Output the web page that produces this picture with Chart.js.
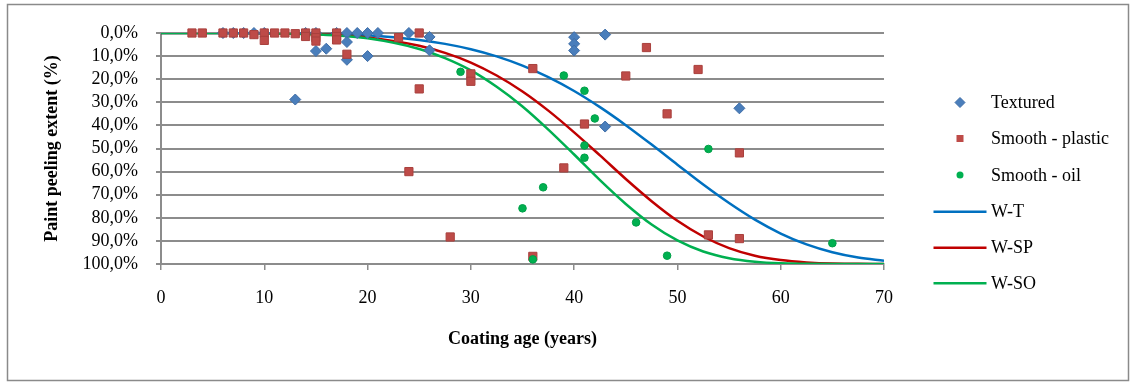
<!DOCTYPE html>
<html><head><meta charset="utf-8">
<script src="https://cdn.jsdelivr.net/npm/chart.js@4.4.1/dist/chart.umd.min.js"></script>
<style>html,body{margin:0;padding:0;background:#fff;overflow:hidden}#wrap{width:1130px;height:383px;position:relative}</style>
</head><body><div id="wrap"><canvas id="c" width="1130" height="383"></canvas></div>
<script>
// ---- tick labels ----
const xTickValues = [0, 10, 20, 30, 40, 50, 60, 70];
const xTickLabels = ['0', '10', '20', '30', '40', '50', '60', '70'];
const yTickValues = [0, 10, 20, 30, 40, 50, 60, 70, 80, 90, 100];
const yTickLabels = ['0,0%', '10,0%', '20,0%', '30,0%', '40,0%', '50,0%', '60,0%', '70,0%', '80,0%', '90,0%', '100,0%'];

// ---- observed data (coating age in years, peeling extent in %) ----
const texturedAge  = [6, 7, 8, 9, 10, 13, 14, 15, 15, 16, 17, 18, 18, 18, 19, 20, 20, 21, 24, 26, 26, 40, 40, 40, 43, 43, 56];
const texturedPeel = [0, 0, 0, 0, 0, 28.8, 0, 0, 7.8, 6.8, 0, 0, 3.9, 11.6, 0, 0, 10, 0, 0, 1.7, 7.5, 1.8, 4.7, 7.6, 0.7, 40.5, 32.6];

const plasticAge  = [3, 4, 6, 7, 8, 9, 10, 10, 11, 12, 13, 14, 14, 15, 15, 15, 17, 17, 17, 18, 23, 24, 25, 25, 28, 30, 30, 36, 36, 39, 41, 45, 47, 49, 52, 53, 56, 56];
const plasticPeel = [0, 0, 0, 0, 0, 0.7, 0, 3.2, 0, 0, 0.3, 0, 1.5, 0, 2, 3.5, 0, 1.5, 3, 9.2, 2, 60, 0, 24.2, 88.3, 17.7, 20.9, 15.4, 96.7, 58.4, 39.4, 18.6, 6.3, 35, 15.8, 87.4, 51.9, 89];

const oilAge  = [29, 35, 36, 37, 39, 41, 41, 41, 42, 46, 49, 53, 65];
const oilPeel = [16.8, 75.9, 98, 66.8, 18.4, 25, 48.7, 54, 37, 82, 96.4, 50.2, 91];

// ---- fitted curves ----
const curveAge = [0, 5, 10, 15, 20, 25, 27.5, 30, 32.5, 35, 37.5, 40, 42.5, 45, 47.5, 50, 52.5, 55, 57.5, 60, 62.5, 65, 67.5, 70];
const wT  = [0, 0, 0.04, 0.3, 1.0, 3.0, 4.7, 7.0, 10.1, 14.1, 19.1, 25.1, 32.1, 39.9, 48.3, 57.0, 65.6, 73.6, 80.8, 86.8, 91.5, 94.9, 97.2, 98.6];
const wSP = [0, 0, 0.06, 0.5, 1.9, 5.5, 8.6, 12.8, 18.4, 25.3, 33.6, 43.0, 53.0, 63.2, 72.8, 81.3, 88.1, 93.1, 96.4, 98.3, 99.3, 99.8, 99.9, 100];
const wSO = [0, 0, 0.07, 0.55, 2.3, 6.9, 10.9, 16.2, 23.3, 31.8, 41.8, 52.6, 63.7, 74.0, 82.9, 89.8, 94.6, 97.5, 99.0, 99.7, 99.9, 100, 100, 100];

const seriesNames = ['Textured', 'Smooth - plastic', 'Smooth - oil', 'W-T', 'W-SP', 'W-SO'];

const pts = (xs, ys) => xs.map((x, i) => ({x: x, y: ys[i]}));

const FONT = "'Liberation Serif', 'Times New Roman', serif";
const GRID = '#8c8c8c';

const C = {
  tex: '#4A7EBB', texB: '#3F6EA8',
  pla: '#BE4B48', plaB: '#A9403D',
  oil: '#00B050', oilB: '#00A048',
  lT: '#0070C0', lSP: '#C00000', lSO: '#00B050'
};

const frame = {
  id: 'frame',
  beforeDraw(chart) {
    const ctx = chart.ctx;
    ctx.save();
    ctx.fillStyle = '#fff';
    ctx.fillRect(0, 0, chart.width, chart.height);
    ctx.restore();
  },
  afterDraw(chart) {
    const ctx = chart.ctx;
    ctx.save();
    ctx.strokeStyle = '#8a8a8a';
    ctx.lineWidth = 1.5;
    ctx.strokeRect(7.5, 4.5, 1121, 376);
    // legend
    const lx = 960, tx = 991;
    const rows = [
      {kind: 'diamond', c: C.tex, b: C.texB, y: 102.5},
      {kind: 'square', c: C.pla, b: C.plaB, y: 138.5},
      {kind: 'circle', c: C.oil, b: C.oilB, y: 175},
      {kind: 'line', c: C.lT, y: 211.7},
      {kind: 'line', c: C.lSP, y: 247.7},
      {kind: 'line', c: C.lSO, y: 283.3}
    ];
    ctx.font = '18px ' + FONT;
    ctx.textBaseline = 'middle';
    ctx.textAlign = 'left';
    rows.forEach((r, i) => {
      ctx.fillStyle = r.c;
      ctx.strokeStyle = r.b || r.c;
      ctx.lineWidth = 1;
      if (r.kind === 'diamond') {
        ctx.beginPath();
        ctx.moveTo(lx - 5, r.y); ctx.lineTo(lx, r.y - 5); ctx.lineTo(lx + 5, r.y); ctx.lineTo(lx, r.y + 5); ctx.closePath();
        ctx.fill(); ctx.stroke();
      } else if (r.kind === 'square') {
        ctx.fillRect(lx - 3.5, r.y - 3.5, 7, 7);
      } else if (r.kind === 'circle') {
        ctx.beginPath(); ctx.arc(lx, r.y, 3.5, 0, Math.PI * 2); ctx.fill();
      } else {
        ctx.lineWidth = 2.5;
        ctx.beginPath(); ctx.moveTo(933.5, r.y); ctx.lineTo(986.5, r.y); ctx.stroke();
      }
      ctx.fillStyle = '#000';
      ctx.fillText(seriesNames[i], tx, r.y + 1);
    });
    ctx.restore();
  }
};

new Chart(document.getElementById('c'), {
  type: 'scatter',
  data: {
    datasets: [
      {label: seriesNames[0], data: pts(texturedAge, texturedPeel), pointStyle: 'rectRot', pointRadius: 5.5,
       backgroundColor: C.tex, borderColor: C.texB, borderWidth: 1, showLine: false, clip: false, order: 3},
      {label: seriesNames[1], data: pts(plasticAge, plasticPeel), pointStyle: 'rect', pointRadius: 5.8,
       backgroundColor: C.pla, borderColor: C.plaB, borderWidth: 1, showLine: false, clip: false, order: 2},
      {label: seriesNames[2], data: pts(oilAge, oilPeel), pointStyle: 'circle', pointRadius: 3.8,
       backgroundColor: C.oil, borderColor: C.oilB, borderWidth: 1, showLine: false, clip: false, order: 1},
      {label: seriesNames[3], data: pts(curveAge, wT), showLine: true, borderColor: C.lT, borderWidth: 2.5,
       pointRadius: 0, cubicInterpolationMode: 'monotone', fill: false, order: 6},
      {label: seriesNames[4], data: pts(curveAge, wSP), showLine: true, borderColor: C.lSP, borderWidth: 2.5,
       pointRadius: 0, cubicInterpolationMode: 'monotone', fill: false, order: 5},
      {label: seriesNames[5], data: pts(curveAge, wSO), showLine: true, borderColor: C.lSO, borderWidth: 2.5,
       pointRadius: 0, cubicInterpolationMode: 'monotone', fill: false, order: 4}
    ]
  },
  options: {
    responsive: false,
    animation: false,
    devicePixelRatio: 1,
    layout: {padding: {top: 33, right: 246, bottom: 0, left: 0}},
    plugins: {legend: {display: false}, tooltip: {enabled: false}},
    scales: {
      x: {
        type: 'linear', position: 'bottom', min: 0, max: 70,
        afterBuildTicks(s) { s.ticks = xTickValues.map(v => ({value: v})); },
        afterFit(s) { s.height = 119; },
        grid: {drawOnChartArea: false, drawTicks: true, tickLength: 6, color: GRID, lineWidth: 1.5},
        border: {color: GRID, width: 2},
        ticks: {font: {family: FONT, size: 18}, color: '#000', padding: 17, autoSkip: false, maxRotation: 0,
                callback: (v, i) => xTickLabels[i]},
        title: {display: true, text: 'Coating age (years)', color: '#000',
                font: {family: FONT, size: 18, weight: 'bold'}, padding: {top: 0, bottom: 33}}
      },
      y: {
        type: 'linear', position: 'left', min: 0, max: 100, reverse: true,
        afterBuildTicks(s) { s.ticks = yTickValues.map(v => ({value: v})); },
        afterFit(s) { s.width = 161; },
        grid: {drawOnChartArea: true, drawTicks: true, tickLength: 5, color: GRID, lineWidth: 2},
        border: {color: GRID, width: 2},
        ticks: {font: {family: FONT, size: 18}, color: '#000', padding: 18, autoSkip: false,
                callback: (v, i) => yTickLabels[i]},
        title: {display: true, text: 'Paint peeling extent (%)', color: '#000',
                font: {family: FONT, size: 18, weight: 'bold'}, padding: {top: 42, bottom: 0}}
      }
    }
  },
  plugins: [frame]
});
</script>
</body></html>
